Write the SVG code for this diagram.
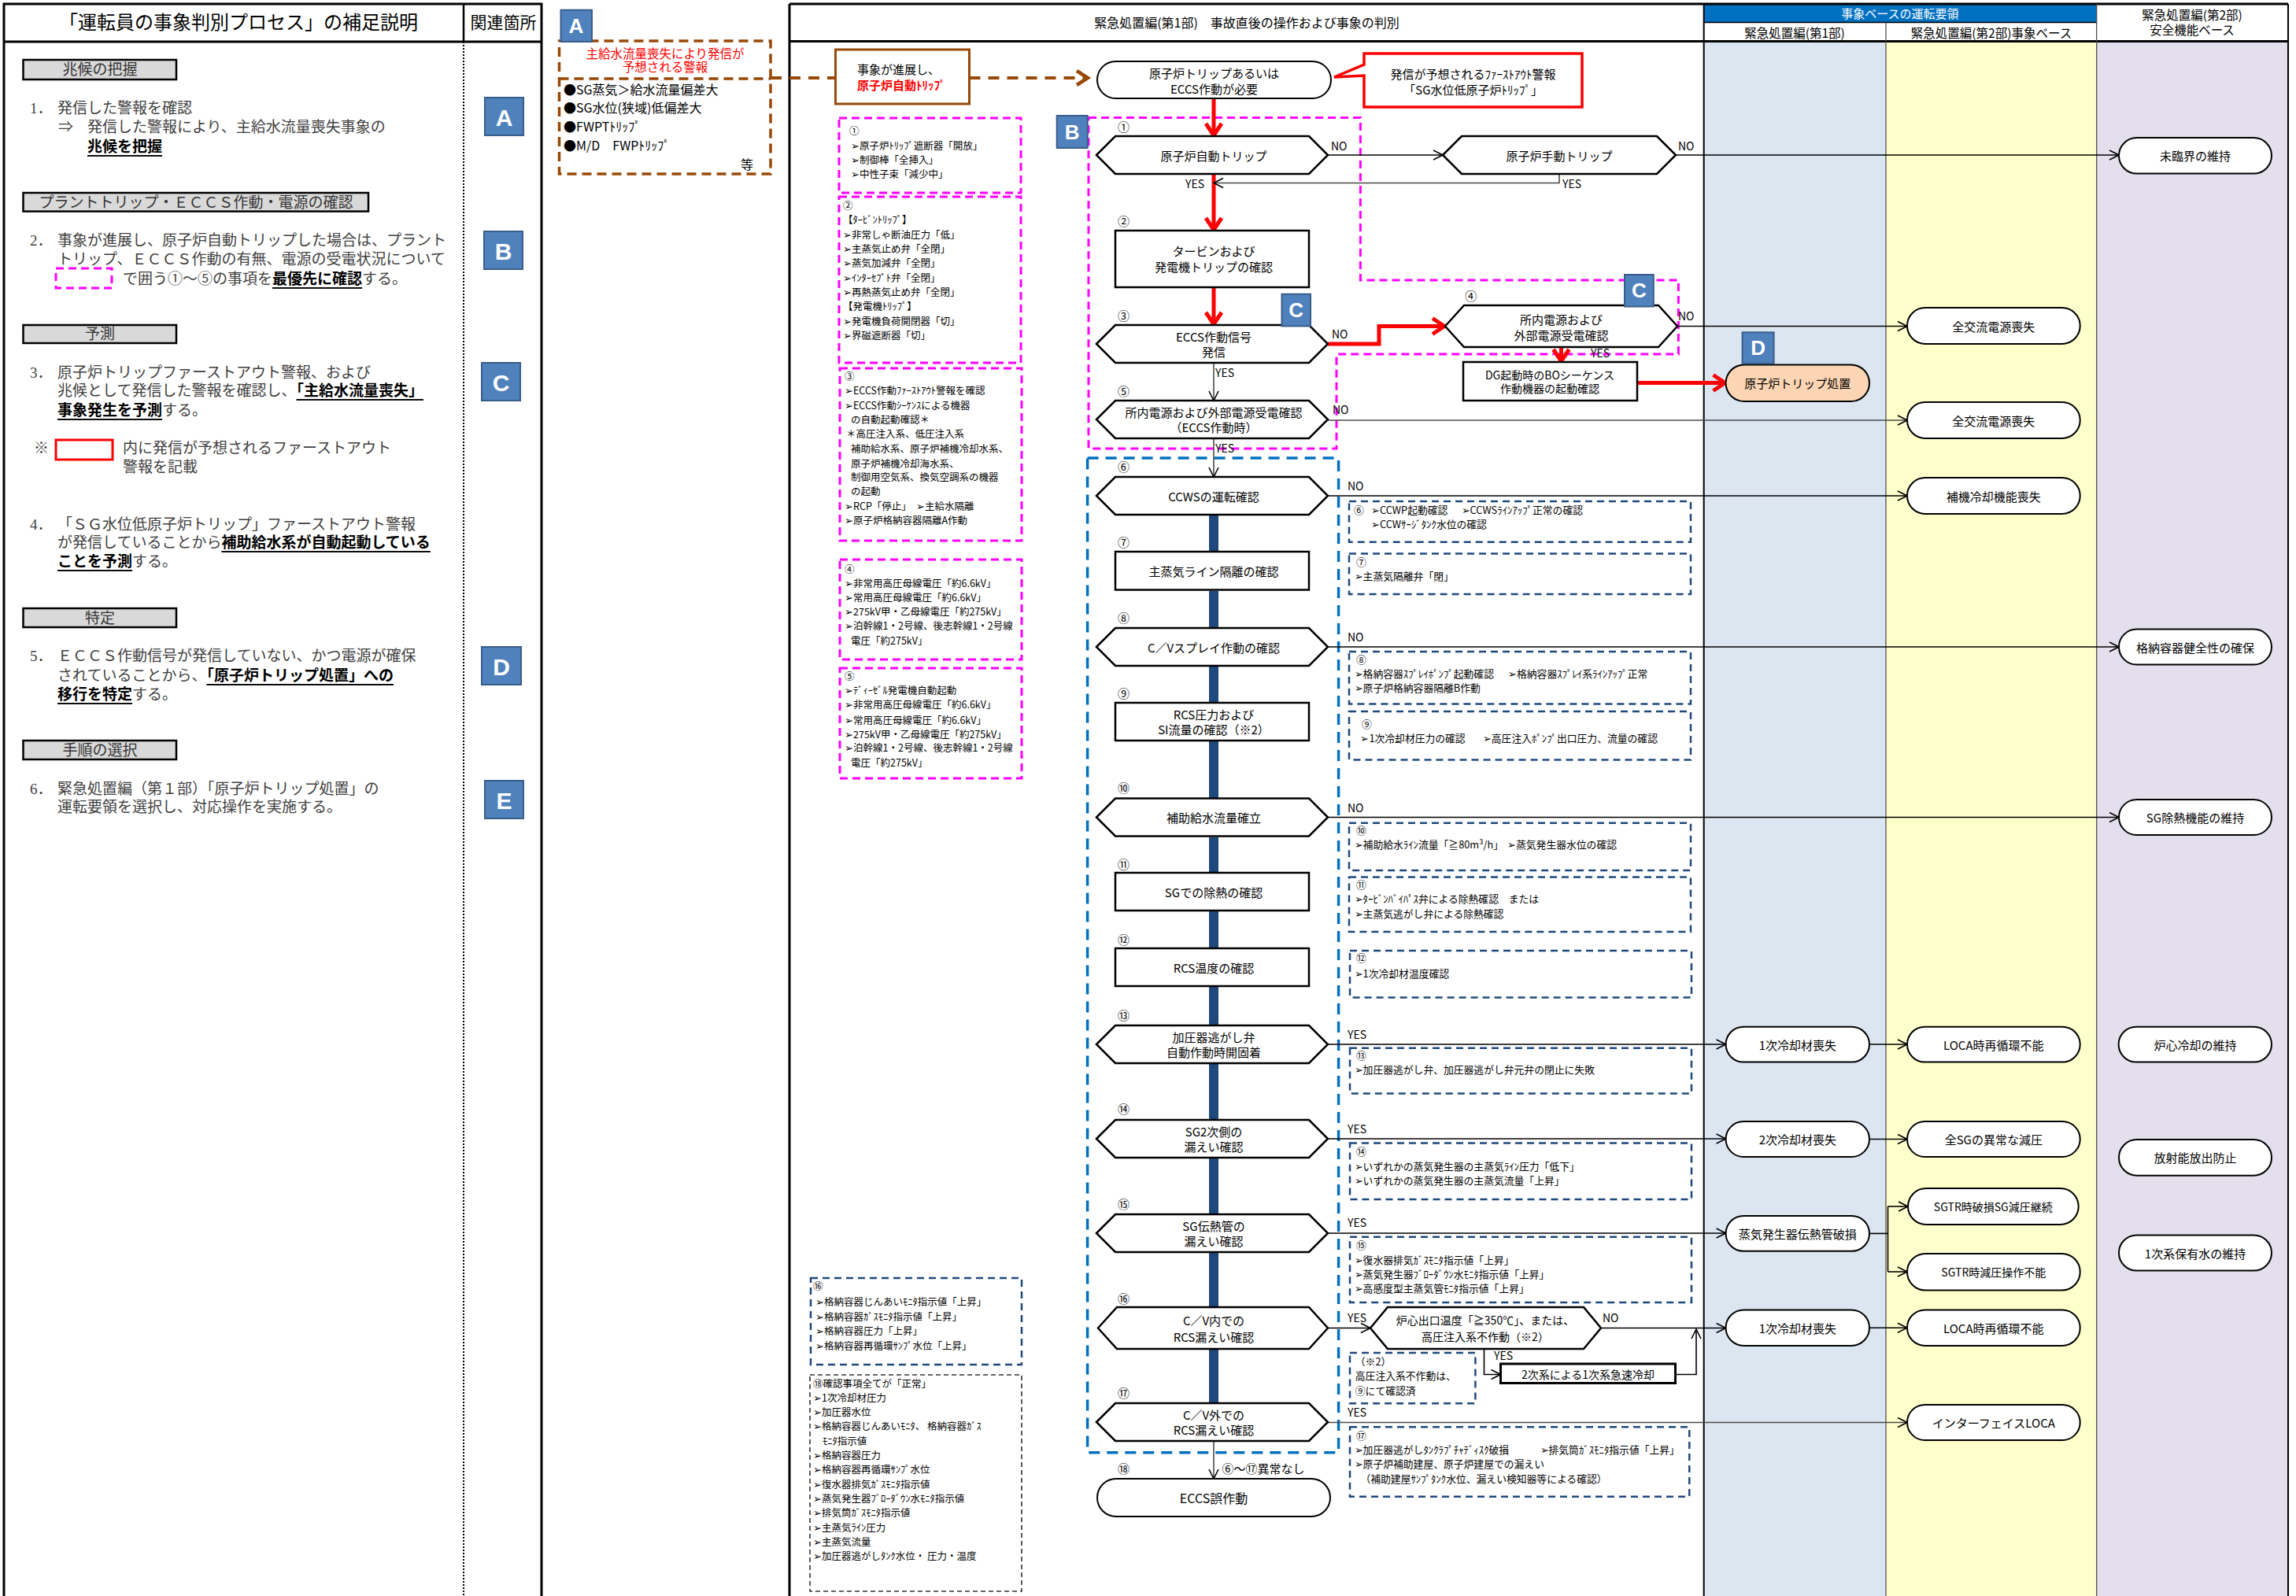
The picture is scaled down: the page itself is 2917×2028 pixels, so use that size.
<svg xmlns="http://www.w3.org/2000/svg" width="2917" height="2028" viewBox="0 0 2917 2028">
<style>
text{font-family:"Noto Sans CJK JP","Noto Sans",sans-serif;dominant-baseline:central;fill:#000}
.m{font-family:"Liberation Serif","Noto Sans CJK JP",serif;font-size:19px;fill:#404040}
.u{text-decoration:underline;font-weight:700;fill:#000}
.c{text-anchor:middle}
.gl{fill:#d9d9d9;stroke:#000;stroke-width:2.5}
.lb{fill:#4f81bd;stroke:#385d8a;stroke-width:2}
.lt{font-family:"Liberation Sans",Arial,sans-serif;font-weight:700;fill:#fff;text-anchor:middle}
.hx{fill:#fff;stroke:#000;stroke-width:2.5}
.tm{fill:#fff;stroke:#000;stroke-width:2}
.n{font-size:15px;text-anchor:middle}
.d{font-size:12.8px}
.p{font-size:12.5px}
.yn{font-size:14px}
.pk{fill:none;stroke:#f0f;stroke-width:3;stroke-dasharray:10 6}
.nv{fill:none;stroke:#1f497d;stroke-width:2.5;stroke-dasharray:9 6}
.br{fill:#1f497d}
.ln{fill:none;stroke:#000;stroke-width:1.6}
.gr{fill:none;stroke:#4a4a4a;stroke-width:1.6}
.rd{fill:none;stroke:#f00;stroke-width:5}
.fr{stroke:#000;stroke-width:3}
</style>
<defs>
<marker id="ah" markerUnits="userSpaceOnUse" markerWidth="16" markerHeight="16" viewBox="0 0 16 16" refX="15" refY="8" orient="auto"><path d="M3,2 L15,8 L3,14" fill="none" stroke="#000" stroke-width="1.6"/></marker>
<marker id="ahr" markerUnits="userSpaceOnUse" markerWidth="26" markerHeight="26" viewBox="0 0 26 26" refX="22" refY="13" orient="auto"><path d="M6,3 L21,13 L6,23" fill="none" stroke="#f00" stroke-width="5"/></marker>
<marker id="ahb" markerUnits="userSpaceOnUse" markerWidth="24" markerHeight="24" viewBox="0 0 24 24" refX="20" refY="12" orient="auto"><path d="M5,3 L19,12 L5,21" fill="none" stroke="#984807" stroke-width="4.5"/></marker>
</defs>

<rect width="2917" height="2028" fill="#fff"/>

<!-- left explanation panel -->
<g id="left-panel">
<rect x="5" y="5" width="683" height="2030" fill="#fff" class="fr"/>
<line x1="5" y1="53" x2="688" y2="53" class="fr"/>
<line x1="589" y1="5" x2="589" y2="53" stroke="#000" stroke-width="2.5"/>
<line x1="589" y1="53" x2="589" y2="2028" stroke="#000" stroke-width="2" stroke-dasharray="2 2"/>
<text x="303" y="29" class="c" style="font-family:'Liberation Serif','Noto Sans CJK JP',serif;font-size:24px">「運転員の事象判別プロセス」の補足説明</text>
<text x="639.5" y="29" class="c" style="font-family:'Liberation Serif','Noto Sans CJK JP',serif;font-size:21px">関連箇所</text>

<g id="sec-sign">
<rect x="29.5" y="76" width="194.5" height="25" class="gl"/>
<text x="127" y="88.5" class="m c" style="fill:#333">兆候の把握</text>
<text x="38" y="137.5" class="m">1．</text><text x="73" y="137.5" class="m">発信した警報を確認</text>
<text x="74" y="161" class="m">⇒</text><text x="111" y="161" class="m">発信した警報により、主給水流量喪失事象の</text>
<text x="111" y="186" class="m"><tspan class="u">兆候を把握</tspan></text>
</g>

<g id="sec-trip">
<rect x="29.5" y="245" width="438.5" height="23.6" class="gl"/>
<text x="249" y="257" class="m c" style="fill:#333">プラントトリップ・ＥＣＣＳ作動・電源の確認</text>
<text x="38" y="305" class="m">2．</text><text x="73" y="305" class="m">事象が進展し、原子炉自動トリップした場合は、プラント</text>
<text x="73" y="329" class="m">トリップ、ＥＣＣＳ作動の有無、電源の受電状況について</text>
<rect x="71" y="341" width="71" height="25" class="pk"/>
<text x="156" y="354" class="m">で囲う①～⑤の事項を<tspan class="u">最優先に確認</tspan>する。</text>
</g>

<g id="sec-predict">
<rect x="29.5" y="413" width="194.5" height="23" class="gl"/>
<text x="127" y="424.5" class="m c" style="fill:#333">予測</text>
<text x="38" y="473" class="m">3．</text><text x="73" y="473" class="m">原子炉トリップファーストアウト警報、および</text>
<text x="73" y="496" class="m">兆候として発信した警報を確認し、<tspan class="u">「主給水流量喪失」</tspan></text>
<text x="73" y="521" class="m"><tspan class="u">事象発生を予測</tspan>する。</text>
<text x="43" y="569" class="m">※</text>
<rect x="71" y="559" width="72" height="25" fill="none" stroke="#f00" stroke-width="3"/>
<text x="156" y="569" class="m">内に発信が予想されるファーストアウト</text>
<text x="156" y="593" class="m">警報を記載</text>
<text x="38" y="666" class="m">4．</text><text x="73" y="666" class="m">「ＳＧ水位低原子炉トリップ」ファーストアウト警報</text>
<text x="73" y="689" class="m">が発信していることから<tspan class="u">補助給水系が自動起動している</tspan></text>
<text x="73" y="713" class="m"><tspan class="u">ことを予測</tspan>する。</text>
</g>

<g id="sec-identify">
<rect x="29.5" y="773" width="194.5" height="24" class="gl"/>
<text x="127" y="785" class="m c" style="fill:#333">特定</text>
<text x="38" y="833" class="m">5．</text><text x="73" y="833" class="m">ＥＣＣＳ作動信号が発信していない、かつ電源が確保</text>
<text x="73" y="858" class="m">されていることから、<tspan class="u">「原子炉トリップ処置」への</tspan></text>
<text x="73" y="882" class="m"><tspan class="u">移行を特定</tspan>する。</text>
</g>

<g id="sec-select">
<rect x="29.5" y="941" width="194.5" height="24" class="gl"/>
<text x="127" y="953" class="m c" style="fill:#333">手順の選択</text>
<text x="38" y="1002" class="m">6．</text><text x="73" y="1002" class="m">緊急処置編（第１部）「原子炉トリップ処置」の</text>
<text x="73" y="1025" class="m">運転要領を選択し、対応操作を実施する。</text>
</g>

<g id="ref-A"><rect x="616" y="124" width="49" height="48" class="lb"/><text x="640.5" y="149" class="lt" style="font-size:30px">A</text></g>
<g id="ref-B"><rect x="615" y="294" width="49" height="48" class="lb"/><text x="639.5" y="319" class="lt" style="font-size:30px">B</text></g>
<g id="ref-C"><rect x="612" y="461" width="49" height="48" class="lb"/><text x="636.5" y="486" class="lt" style="font-size:30px">C</text></g>
<g id="ref-D"><rect x="612" y="822" width="50" height="48" class="lb"/><text x="637" y="847" class="lt" style="font-size:30px">D</text></g>
<g id="ref-E"><rect x="616" y="992" width="49" height="48" class="lb"/><text x="640.5" y="1017" class="lt" style="font-size:30px">E</text></g>
</g>

<!-- lane backgrounds and frame of the flow chart -->
<g id="lanes">
<rect x="2164.7" y="52.6" width="231.3" height="1976" fill="#dce6f1"/>
<rect x="2396" y="52.6" width="267.7" height="1976" fill="#ffffcc"/>
<rect x="2663.7" y="52.6" width="243.6" height="1976" fill="#e4dfec"/>
<rect x="2164.7" y="5" width="499" height="23.5" fill="#0070c0"/>
<text x="2414" y="16.5" class="c" style="font-size:15px;fill:#fff">事象ベースの運転要領</text>
<text x="2280" y="40.5" class="c" style="font-size:15.5px">緊急処置編(第1部)</text>
<text x="2530" y="40.5" class="c" style="font-size:15.5px">緊急処置編(第2部)事象ベース</text>
<text x="2785" y="18" class="c" style="font-size:15.5px">緊急処置編(第2部)</text>
<text x="2785" y="37" class="c" style="font-size:15.5px">安全機能ベース</text>
<text x="1584" y="28" class="c" style="font-size:16px">緊急処置編(第1部)　事故直後の操作および事象の判別</text>
<line x1="1003" y1="5" x2="2907" y2="5" class="fr"/>
<line x1="1003" y1="52.6" x2="2907" y2="52.6" class="fr"/>
<line x1="1003" y1="5" x2="1003" y2="2028" class="fr"/>
<line x1="2907" y1="5" x2="2907" y2="2028" stroke="#000" stroke-width="2"/>
<line x1="2164.7" y1="5" x2="2164.7" y2="2028" stroke="#000" stroke-width="2"/>
<line x1="2164.7" y1="28.5" x2="2663.7" y2="28.5" stroke="#000" stroke-width="1.5"/>
<line x1="2396" y1="28.5" x2="2396" y2="2028" stroke="#444" stroke-width="1.2"/>
<line x1="2663.7" y1="5" x2="2663.7" y2="2028" stroke="#444" stroke-width="1.2"/>
</g>

<!-- alarm list -->
<g id="alarm-box">
<rect x="710.5" y="52" width="268.5" height="169" fill="#fff" stroke="#984807" stroke-width="3.5" stroke-dasharray="12 7"/>
<line x1="710.5" y1="100" x2="979" y2="100" stroke="#984807" stroke-width="3.5" stroke-dasharray="12 7"/>
<text x="845" y="67" class="c" style="font-size:15.5px;fill:#f00">主給水流量喪失により発信が</text>
<text x="845" y="84" class="c" style="font-size:15.5px;fill:#f00">予想される警報</text>
<text x="716" y="113" style="font-size:16px">●SG蒸気＞給水流量偏差大</text>
<text x="716" y="136" style="font-size:16px">●SG水位(狭域)低偏差大</text>
<text x="716" y="160" style="font-size:16px">●FWPTﾄﾘｯﾌﾟ</text>
<text x="716" y="184" style="font-size:16px">●M/D　FWPﾄﾘｯﾌﾟ</text>
<text x="941" y="208" style="font-size:16px">等</text>
</g>
<g id="ref-A2"><rect x="712.5" y="12.7" width="39.5" height="40.3" class="lb"/><text x="732" y="33" class="lt" style="font-size:26px">A</text></g>

<g id="trip-note">
<rect x="1061.5" y="63" width="170" height="69" fill="#fff" stroke="#984807" stroke-width="3"/>
<text x="1089" y="87" style="font-size:15px">事象が進展し、</text>
<text x="1089" y="107.5" style="font-size:15px;fill:#f00;font-weight:700">原子炉自動ﾄﾘｯﾌﾟ</text>
</g>

<!-- check items ①～⑤ -->
<g id="chk-1">
<rect x="1066" y="150" width="231" height="95" class="pk"/>
<text x="1079" y="165" class="p">①</text>
<text x="1081" y="184" class="p">➢原子炉ﾄﾘｯﾌﾟ遮断器「開放」</text>
<text x="1081" y="202" class="p">➢制御棒「全挿入」</text>
<text x="1081" y="220" class="p">➢中性子束「減少中」</text>
</g>
<g id="chk-2">
<rect x="1066" y="250" width="231" height="211" class="pk"/>
<text x="1071" y="260" class="p">②</text>
<text x="1071" y="278" class="p">【ﾀｰﾋﾞﾝﾄﾘｯﾌﾟ】</text>
<text x="1071" y="297" class="p">➢非常しゃ断油圧力「低」</text>
<text x="1071" y="315" class="p">➢主蒸気止め弁「全閉」</text>
<text x="1071" y="333" class="p">➢蒸気加減弁「全閉」</text>
<text x="1071" y="352" class="p">➢ｲﾝﾀｰｾﾌﾟﾄ弁「全閉」</text>
<text x="1071" y="370" class="p">➢再熱蒸気止め弁「全閉」</text>
<text x="1071" y="388" class="p">【発電機ﾄﾘｯﾌﾟ】</text>
<text x="1071" y="407" class="p">➢発電機負荷開閉器「切」</text>
<text x="1071" y="425" class="p">➢界磁遮断器「切」</text>
</g>
<g id="chk-3">
<rect x="1067" y="468" width="231" height="219" class="pk"/>
<text x="1073" y="477" class="p">③</text>
<text x="1073" y="495.5" class="p">➢ECCS作動ﾌｧｰｽﾄｱｳﾄ警報を確認</text>
<text x="1073" y="514" class="p">➢ECCS作動ｼｰｹﾝｽによる機器</text>
<text x="1081" y="532" class="p">の自動起動確認＊</text>
<text x="1075" y="550.6" class="p">＊高圧注入系、低圧注入系</text>
<text x="1081" y="569.5" class="p">補助給水系、原子炉補機冷却水系、</text>
<text x="1081" y="588" class="p">原子炉補機冷却海水系、</text>
<text x="1081" y="605" class="p">制御用空気系、換気空調系の機器</text>
<text x="1081" y="623.6" class="p">の起動</text>
<text x="1073" y="642" class="p">➢RCP「停止」　➢主給水隔離</text>
<text x="1073" y="660" class="p">➢原子炉格納容器隔離A作動</text>
</g>
<g id="chk-4">
<rect x="1067" y="711" width="231" height="127" class="pk"/>
<text x="1073" y="722" class="p">④</text>
<text x="1073" y="740" class="p">➢非常用高圧母線電圧「約6.6kV」</text>
<text x="1073" y="758.6" class="p">➢常用高圧母線電圧「約6.6kV」</text>
<text x="1073" y="776" class="p">➢275kV甲・乙母線電圧「約275kV」</text>
<text x="1073" y="794" class="p">➢泊幹線1・2号線、後志幹線1・2号線</text>
<text x="1081" y="813" class="p">電圧「約275kV」</text>
</g>
<g id="chk-5">
<rect x="1067" y="849" width="231" height="140" class="pk"/>
<text x="1073" y="858" class="p">⑤</text>
<text x="1073" y="876.7" class="p">➢ﾃﾞｨｰｾﾞﾙ発電機自動起動</text>
<text x="1073" y="894.6" class="p">➢非常用高圧母線電圧「約6.6kV」</text>
<text x="1073" y="914" class="p">➢常用高圧母線電圧「約6.6kV」</text>
<text x="1073" y="932" class="p">➢275kV甲・乙母線電圧「約275kV」</text>
<text x="1073" y="949.7" class="p">➢泊幹線1・2号線、後志幹線1・2号線</text>
<text x="1081" y="968" class="p">電圧「約275kV」</text>
</g>
<g id="chk-16">
<rect x="1030" y="1624" width="268" height="110" class="nv"/>
<text x="1033" y="1633" class="p">⑯</text>
<text x="1036" y="1653" class="p">➢格納容器じんあいﾓﾆﾀ指示値「上昇」</text>
<text x="1036" y="1672" class="p">➢格納容器ｶﾞｽﾓﾆﾀ指示値「上昇」</text>
<text x="1036" y="1690" class="p">➢格納容器圧力「上昇」</text>
<text x="1036" y="1709" class="p">➢格納容器再循環ｻﾝﾌﾟ水位「上昇」</text>
</g>
<g id="chk-18">
<rect x="1029" y="1747" width="269" height="275" fill="none" stroke="#333" stroke-width="1.6" stroke-dasharray="6 4"/>
<text x="1033" y="1757" class="p">⑱確認事項全てが「正常」</text>
<text x="1033" y="1775.3" class="p">➢1次冷却材圧力</text>
<text x="1033" y="1793.6" class="p">➢加圧器水位</text>
<text x="1033" y="1811.9" class="p">➢格納容器じんあいﾓﾆﾀ、 格納容器ｶﾞｽ</text>
<text x="1045" y="1830.2" class="p">ﾓﾆﾀ指示値</text>
<text x="1033" y="1848.5" class="p">➢格納容器圧力</text>
<text x="1033" y="1866.8" class="p">➢格納容器再循環ｻﾝﾌﾟ水位</text>
<text x="1033" y="1885.1" class="p">➢復水器排気ｶﾞｽﾓﾆﾀ指示値</text>
<text x="1033" y="1903.4" class="p">➢蒸気発生器ﾌﾞﾛｰﾀﾞｳﾝ水ﾓﾆﾀ指示値</text>
<text x="1033" y="1921.7" class="p">➢排気筒ｶﾞｽﾓﾆﾀ指示値</text>
<text x="1033" y="1940" class="p">➢主蒸気ﾗｲﾝ圧力</text>
<text x="1033" y="1958.3" class="p">➢主蒸気流量</text>
<text x="1033" y="1976.6" class="p">➢加圧器逃がしﾀﾝｸ水位・ 圧力・温度</text>
</g>

<!-- grouping outlines -->
<g id="regions">
<path d="M1383,149.5 H1728.4 V356 H2132.4 V450 H1698 V570 H1383 Z" class="pk"/>
<rect x="1381.6" y="582" width="319" height="1263.7" fill="none" stroke="#0070c0" stroke-width="3.5" stroke-dasharray="14 9"/>
</g>

<!-- detail notes for ⑥～⑰ -->
<g id="notes">
<rect x="1714" y="637" width="434" height="51.7" class="nv"/>
<text x="1720" y="647" class="d">⑥</text><text x="1742" y="647" class="d">➢CCWP起動確認</text><text x="1856.6" y="647" class="d">➢CCWSﾗｲﾝｱｯﾌﾟ正常の確認</text>
<text x="1742" y="665" class="d">➢CCWｻｰｼﾞﾀﾝｸ水位の確認</text>
<rect x="1714" y="703.4" width="434" height="51.6" class="nv"/>
<text x="1723" y="713" class="d">⑦</text>
<text x="1720.6" y="731" class="d">➢主蒸気隔離弁「閉」</text>
<rect x="1714" y="828" width="434" height="66.4" class="nv"/>
<text x="1723" y="837.8" class="d">⑧</text>
<text x="1720.6" y="855.6" class="d">➢格納容器ｽﾌﾟﾚｲﾎﾟﾝﾌﾟ起動確認</text><text x="1916" y="855.6" class="d">➢格納容器ｽﾌﾟﾚｲ系ﾗｲﾝｱｯﾌﾟ正常</text>
<text x="1720.6" y="873.4" class="d">➢原子炉格納容器隔離B作動</text>
<rect x="1714" y="904" width="434" height="61.5" class="nv"/>
<text x="1730" y="919" class="d">⑨</text>
<text x="1728.4" y="937.8" class="d">➢1次冷却材圧力の確認</text><text x="1883.8" y="937.8" class="d">➢高圧注入ﾎﾟﾝﾌﾟ出口圧力、流量の確認</text>
<rect x="1714" y="1045.8" width="434" height="60.2" class="nv"/>
<text x="1723" y="1054.5" class="d">⑩</text>
<text x="1720.6" y="1072.3" class="d">➢補助給水ﾗｲﾝ流量「≧80m³/h」</text><text x="1915" y="1072.3" class="d">➢蒸気発生器水位の確認</text>
<rect x="1714" y="1114.6" width="434" height="69.4" class="nv"/>
<text x="1723" y="1123.7" class="d">⑪</text>
<text x="1720.6" y="1141.5" class="d">➢ﾀｰﾋﾞﾝﾊﾞｲﾊﾟｽ弁による除熱確認　または</text>
<text x="1720.6" y="1160" class="d">➢主蒸気逃がし弁による除熱確認</text>
<rect x="1715" y="1207.9" width="434" height="59.6" class="nv"/>
<text x="1723" y="1216.8" class="d">⑫</text>
<text x="1720.6" y="1236" class="d">➢1次冷却材温度確認</text>
<rect x="1715" y="1331.8" width="434" height="57.8" class="nv"/>
<text x="1723" y="1340.7" class="d">⑬</text>
<text x="1720.6" y="1358.6" class="d">➢加圧器逃がし弁、加圧器逃がし弁元弁の閉止に失敗</text>
<rect x="1715" y="1452.5" width="434" height="71.5" class="nv"/>
<text x="1723" y="1462" class="d">⑭</text>
<text x="1720.6" y="1481.8" class="d">➢いずれかの蒸気発生器の主蒸気ﾗｲﾝ圧力「低下」</text>
<text x="1720.6" y="1499" class="d">➢いずれかの蒸気発生器の主蒸気流量「上昇」</text>
<rect x="1715" y="1571.8" width="434" height="83.2" class="nv"/>
<text x="1723" y="1581" class="d">⑮</text>
<text x="1720.6" y="1600.7" class="d">➢復水器排気ｶﾞｽﾓﾆﾀ指示値「上昇」</text>
<text x="1720.6" y="1618.6" class="d">➢蒸気発生器ﾌﾞﾛｰﾀﾞｳﾝ水ﾓﾆﾀ指示値「上昇」</text>
<text x="1720.6" y="1636.4" class="d">➢高感度型主蒸気管ﾓﾆﾀ指示値「上昇」</text>
<rect x="1715" y="1719" width="159.4" height="64.3" class="nv"/>
<text x="1721.8" y="1729.3" class="d">（※2）</text>
<text x="1721.8" y="1747.7" class="d">高圧注入系不作動は、</text>
<text x="1721.8" y="1766.7" class="d">⑨にて確認済</text>
<rect x="1715" y="1813.3" width="431.3" height="88.4" class="nv"/>
<text x="1723" y="1823.3" class="d">⑰</text>
<text x="1720.6" y="1841.7" class="d">➢加圧器逃がしﾀﾝｸﾗﾌﾟﾁｬﾃﾞｨｽｸ破損</text><text x="1956.5" y="1841.7" class="d">➢排気筒ｶﾞｽﾓﾆﾀ指示値「上昇」</text>
<text x="1720.6" y="1859.3" class="d">➢原子炉補助建屋、原子炉建屋での漏えい</text>
<text x="1728.4" y="1878.3" class="d">（補助建屋ｻﾝﾌﾟﾀﾝｸ水位、漏えい検知器等による確認）</text>
</g>

<!-- connectors -->
<g id="connectors">
<line x1="979" y1="99" x2="1061.5" y2="99" stroke="#984807" stroke-width="4" stroke-dasharray="14 10"/>
<line x1="1231.5" y1="99" x2="1383" y2="99" stroke="#984807" stroke-width="4" stroke-dasharray="14 10" marker-end="url(#ahb)"/>
<line x1="1542" y1="125" x2="1542" y2="173" class="rd" marker-end="url(#ahr)"/>
<line x1="1542" y1="221" x2="1542" y2="293" class="rd" marker-end="url(#ahr)"/>
<line x1="1542" y1="365" x2="1542" y2="413" class="rd" marker-end="url(#ahr)"/>
<polyline points="1687,437 1752,437 1752,414.5 1836,414.5" class="rd" marker-end="url(#ahr)"/>
<line x1="1983.5" y1="441" x2="1983.5" y2="460" class="rd" marker-end="url(#ahr)"/>
<line x1="2080" y1="486.5" x2="2192.6" y2="486.5" class="rd" marker-end="url(#ahr)"/>
<line x1="1687" y1="197" x2="1833" y2="197" class="ln" marker-end="url(#ah)"/>
<line x1="2129" y1="197" x2="2692" y2="197" class="ln" marker-end="url(#ah)"/>
<polyline points="1981,221 1981,232.5 1542,232.5" class="gr" marker-end="url(#ah)"/>
<line x1="1542" y1="461" x2="1542" y2="509" class="gr" marker-end="url(#ah)"/>
<line x1="2131" y1="414.5" x2="2423" y2="414.5" class="ln" marker-end="url(#ah)"/>
<line x1="1687" y1="534" x2="2423" y2="534" class="gr" marker-end="url(#ah)"/>
<line x1="1542" y1="557" x2="1542" y2="606" class="gr" marker-end="url(#ah)"/>
<line x1="1687" y1="630" x2="2423" y2="630" class="ln" marker-end="url(#ah)"/>
<line x1="1687" y1="822" x2="2692" y2="822" class="ln" marker-end="url(#ah)"/>
<line x1="1687" y1="1038.5" x2="2692" y2="1038.5" class="ln" marker-end="url(#ah)"/>
<line x1="1687" y1="1327" x2="2192.6" y2="1327" class="ln" marker-end="url(#ah)"/>
<line x1="1687" y1="1447" x2="2192.6" y2="1447" class="ln" marker-end="url(#ah)"/>
<line x1="1687" y1="1567" x2="2192.6" y2="1567" class="ln" marker-end="url(#ah)"/>
<line x1="1687" y1="1687.5" x2="1741" y2="1687.5" class="ln" marker-end="url(#ah)"/>
<line x1="2034" y1="1687.5" x2="2192.6" y2="1687.5" class="ln" marker-end="url(#ah)"/>
<polyline points="1885.5,1714 1885.5,1746.5 1906.5,1746.5" class="ln" marker-end="url(#ah)"/>
<polyline points="2128.5,1746.5 2155,1746.5 2155,1689" class="ln" marker-end="url(#ah)"/>
<line x1="1687" y1="1807.5" x2="2423" y2="1807.5" class="gr" marker-end="url(#ah)"/>
<line x1="1542" y1="1831" x2="1542" y2="1879" class="gr" marker-end="url(#ah)"/>
<line x1="2375" y1="1327" x2="2423" y2="1327" class="ln" marker-end="url(#ah)"/>
<line x1="2375" y1="1447.5" x2="2423" y2="1447.5" class="ln" marker-end="url(#ah)"/>
<polyline points="2375,1567.4 2398.5,1567.4" class="ln"/>
<line x1="2398.5" y1="1533" x2="2398.5" y2="1616" class="ln"/>
<line x1="2398.5" y1="1533" x2="2424" y2="1533" class="ln" marker-end="url(#ah)"/>
<line x1="2398.5" y1="1616" x2="2423" y2="1616" class="ln" marker-end="url(#ah)"/>
<line x1="2375" y1="1687.2" x2="2423" y2="1687.2" class="ln" marker-end="url(#ah)"/>
<rect x="1536" y="655" width="12" height="46" class="br"/>
<rect x="1536" y="751" width="12" height="47" class="br"/>
<rect x="1536" y="847" width="12" height="46" class="br"/>
<rect x="1536" y="942" width="12" height="72.5" class="br"/>
<rect x="1536" y="1064" width="12" height="45" class="br"/>
<rect x="1536" y="1158" width="12" height="47" class="br"/>
<rect x="1536" y="1254" width="12" height="49" class="br"/>
<rect x="1536" y="1352" width="12" height="71" class="br"/>
<rect x="1536" y="1472" width="12" height="71" class="br"/>
<rect x="1536" y="1592" width="12" height="69" class="br"/>
<rect x="1536" y="1715" width="12" height="68" class="br"/>
<g class="yn">
<text x="1691" y="185" class="yn">NO</text>
<text x="2132" y="185" class="yn">NO</text>
<text x="1506" y="232.5" class="yn">YES</text>
<text x="1985" y="232.5" class="yn">YES</text>
<text x="1692" y="424" class="yn">NO</text>
<text x="2132" y="400.5" class="yn">NO</text>
<text x="2021" y="448" class="yn">YES</text>
<text x="1544" y="472.5" class="yn">YES</text>
<text x="1693" y="520" class="yn">NO</text>
<text x="1544" y="569.4" class="yn">YES</text>
<text x="1712" y="616.8" class="yn">NO</text>
<text x="1712" y="808.5" class="yn">NO</text>
<text x="1712" y="1025.6" class="yn">NO</text>
<text x="1712" y="1314" class="yn">YES</text>
<text x="1712" y="1433.6" class="yn">YES</text>
<text x="1712" y="1553" class="yn">YES</text>
<text x="1712" y="1674" class="yn">YES</text>
<text x="2036" y="1674" class="yn">NO</text>
<text x="1898" y="1721.7" class="yn">YES</text>
<text x="1712" y="1794" class="yn">YES</text>
</g>
<text x="1552.5" y="1865" style="font-size:15px">⑥～⑰異常なし</text>
</g>

<!-- step numbers -->
<g id="step-numbers" style="font-size:15px">
<text x="1427.6" y="160" class="c">①</text>
<text x="1427.6" y="280.7" class="c">②</text>
<text x="1427.6" y="400" class="c">③</text>
<text x="1868.8" y="375.6" class="c">④</text>
<text x="1427.6" y="496" class="c">⑤</text>
<text x="1427.6" y="592" class="c">⑥</text>
<text x="1427.6" y="688.7" class="c">⑦</text>
<text x="1427.6" y="784.4" class="c">⑧</text>
<text x="1427.6" y="880.5" class="c">⑨</text>
<text x="1427.6" y="1000" class="c">⑩</text>
<text x="1427.6" y="1097" class="c">⑪</text>
<text x="1427.6" y="1193.6" class="c">⑫</text>
<text x="1427.6" y="1289" class="c">⑬</text>
<text x="1427.6" y="1408.6" class="c">⑭</text>
<text x="1427.6" y="1529" class="c">⑮</text>
<text x="1427.6" y="1649" class="c">⑯</text>
<text x="1427.6" y="1769.3" class="c">⑰</text>
<text x="1427.6" y="1865" class="c">⑱</text>
</g>

<!-- flow nodes -->
<g id="start">
<rect x="1394" y="78" width="297" height="47" rx="23.5" class="tm"/>
<text x="1542.5" y="92" class="n">原子炉トリップあるいは</text>
<text x="1542.5" y="112" class="n">ECCS作動が必要</text>
</g>
<g id="callout">
<path d="M1733,68 H2010 V136 H1733 V96 L1695,98 L1733,82 Z" fill="#fff" stroke="#f00" stroke-width="3.5"/>
<text x="1871.6" y="93" class="n">発信が予想されるﾌｧｰｽﾄｱｳﾄ警報</text>
<text x="1871.6" y="113.5" class="n">「SG水位低原子炉ﾄﾘｯﾌﾟ」</text>
</g>
<g id="ref-B2"><rect x="1342.7" y="147" width="39" height="41" class="lb"/><text x="1362.2" y="168" class="lt" style="font-size:26px">B</text></g>
<g id="step-1">
<polygon points="1393,197 1417,173 1663,173 1687,197 1663,221 1417,221" class="hx"/>
<text x="1542" y="197" class="n">原子炉自動トリップ</text>
</g>
<g id="step-1b">
<polygon points="1833,197 1857,173 2105,173 2129,197 2105,221 1857,221" class="hx"/>
<text x="1981" y="197" class="n">原子炉手動トリップ</text>
</g>
<g id="step-2">
<rect x="1417" y="293" width="246" height="72" class="hx"/>
<text x="1542" y="318" class="n">タービンおよび</text>
<text x="1542" y="338" class="n">発電機トリップの確認</text>
</g>
<g id="step-3">
<polygon points="1393,437 1417,413 1663,413 1687,437 1663,461 1417,461" class="hx"/>
<text x="1542" y="427" class="n">ECCS作動信号</text>
<text x="1542" y="446" class="n">発信</text>
</g>
<g id="ref-C2"><rect x="1628.5" y="373.7" width="36.5" height="40.7" class="lb"/><text x="1646.7" y="394" class="lt" style="font-size:26px">C</text></g>
<g id="step-4">
<polygon points="1836,414.5 1860,388 2107,388 2131,414.5 2107,441 1860,441" class="hx"/>
<text x="1983.5" y="405" class="n">所内電源および</text>
<text x="1983.5" y="425" class="n">外部電源受電確認</text>
</g>
<g id="ref-C3"><rect x="2064" y="349" width="36.8" height="40.5" class="lb"/><text x="2082.4" y="369" class="lt" style="font-size:26px">C</text></g>
<g id="dg-check">
<rect x="1859" y="460" width="221" height="49" class="hx"/>
<text x="1969" y="476" class="n" style="font-size:14px">DG起動時のBOシーケンス</text>
<text x="1969" y="493" class="n" style="font-size:14px">作動機器の起動確認</text>
</g>
<g id="step-5">
<polygon points="1393,533 1417,509 1663,509 1687,533 1663,557 1417,557" class="hx"/>
<text x="1542" y="523" class="n">所内電源および外部電源受電確認</text>
<text x="1542" y="542" class="n">（ECCS作動時）</text>
</g>
<g id="step-6">
<polygon points="1393,630 1417,606 1663,606 1687,630 1663,654 1417,654" class="hx"/>
<text x="1542" y="630" class="n">CCWSの運転確認</text>
</g>
<g id="step-7">
<rect x="1417" y="701" width="246" height="48.5" class="hx"/>
<text x="1542" y="725" class="n">主蒸気ライン隔離の確認</text>
</g>
<g id="step-8">
<polygon points="1393,822 1417,798 1663,798 1687,822 1663,846 1417,846" class="hx"/>
<text x="1542" y="822" class="n">C／Vスプレイ作動の確認</text>
</g>
<g id="step-9">
<rect x="1417" y="893" width="246" height="48" class="hx"/>
<text x="1542" y="907" class="n">RCS圧力および</text>
<text x="1542" y="926" class="n">SI流量の確認（※2）</text>
</g>
<g id="step-10">
<polygon points="1393,1038.5 1417,1014.5 1663,1014.5 1687,1038.5 1663,1062.5 1417,1062.5" class="hx"/>
<text x="1542" y="1038.5" class="n">補助給水流量確立</text>
</g>
<g id="step-11">
<rect x="1417" y="1109" width="246" height="48" class="hx"/>
<text x="1542" y="1133" class="n">SGでの除熱の確認</text>
</g>
<g id="step-12">
<rect x="1417" y="1205" width="246" height="48" class="hx"/>
<text x="1542" y="1229" class="n">RCS温度の確認</text>
</g>
<g id="step-13">
<polygon points="1393,1327 1417,1303 1663,1303 1687,1327 1663,1351 1417,1351" class="hx"/>
<text x="1542" y="1317" class="n">加圧器逃がし弁</text>
<text x="1542" y="1336" class="n">自動作動時開固着</text>
</g>
<g id="step-14">
<polygon points="1393,1447 1417,1423 1663,1423 1687,1447 1663,1471 1417,1471" class="hx"/>
<text x="1542" y="1437" class="n">SG2次側の</text>
<text x="1542" y="1456" class="n">漏えい確認</text>
</g>
<g id="step-15">
<polygon points="1393,1567 1417,1543 1663,1543 1687,1567 1663,1591 1417,1591" class="hx"/>
<text x="1542" y="1557" class="n">SG伝熱管の</text>
<text x="1542" y="1576" class="n">漏えい確認</text>
</g>
<g id="step-16">
<polygon points="1395,1687.5 1419,1661 1663,1661 1687,1687.5 1663,1714 1419,1714" class="hx"/>
<text x="1542" y="1677" class="n">C／V内での</text>
<text x="1542" y="1698" class="n">RCS漏えい確認</text>
</g>
<g id="step-16b">
<polygon points="1741,1687.5 1763,1661 2012,1661 2034,1687.5 2012,1714 1763,1714" class="hx"/>
<text x="1887" y="1677" class="n" style="font-size:14px">炉心出口温度「≧350℃」、または、</text>
<text x="1887" y="1698" class="n" style="font-size:14px">高圧注入系不作動（※2）</text>
</g>
<g id="rapid-cool">
<rect x="1906.5" y="1733" width="222" height="24.5" fill="#fff" stroke="#000" stroke-width="3"/>
<text x="2017.5" y="1745.5" class="n" style="font-size:14px">2次系による1次系急速冷却</text>
</g>
<g id="step-17">
<polygon points="1393,1807 1417,1783 1663,1783 1687,1807 1663,1831 1417,1831" class="hx"/>
<text x="1542" y="1797" class="n">C／V外での</text>
<text x="1542" y="1816" class="n">RCS漏えい確認</text>
</g>
<g id="step-18">
<rect x="1394" y="1879" width="296" height="48" rx="24" class="tm"/>
<text x="1542" y="1903" class="n" style="font-size:16px">ECCS誤作動</text>
</g>

<!-- procedure outcomes -->
<g id="out-subcrit"><rect x="2692" y="175" width="194" height="45.6" rx="22.8" class="tm"/><text x="2789" y="197.8" class="n">未臨界の維持</text></g>
<g id="out-sbo1"><rect x="2423" y="391" width="219.7" height="46" rx="23" class="tm"/><text x="2532.8" y="414" class="n">全交流電源喪失</text></g>
<g id="out-trip"><rect x="2192.6" y="463.4" width="182.4" height="46.6" rx="23.3" fill="#fcd5b4" stroke="#000" stroke-width="2"/><text x="2283.8" y="486.7" class="n">原子炉トリップ処置</text></g>
<g id="ref-D2"><rect x="2213.6" y="422.3" width="40" height="39.5" class="lb"/><text x="2233.6" y="442" class="lt" style="font-size:26px">D</text></g>
<g id="out-sbo2"><rect x="2423" y="511" width="219.7" height="46" rx="23" class="tm"/><text x="2532.8" y="534" class="n">全交流電源喪失</text></g>
<g id="out-ccw"><rect x="2423" y="607" width="219.7" height="46" rx="23" class="tm"/><text x="2532.8" y="630" class="n">補機冷却機能喪失</text></g>
<g id="out-cv"><rect x="2692" y="799.5" width="194" height="45" rx="22.5" class="tm"/><text x="2789" y="822" class="n">格納容器健全性の確保</text></g>
<g id="out-sgheat"><rect x="2692" y="1016" width="194" height="45" rx="22.5" class="tm"/><text x="2789" y="1038.5" class="n">SG除熱機能の維持</text></g>
<g id="out-loca1"><rect x="2192.6" y="1304.7" width="182.4" height="44.8" rx="22.4" class="tm"/><text x="2283.8" y="1327" class="n">1次冷却材喪失</text></g>
<g id="out-recirc1"><rect x="2423" y="1304.7" width="219.7" height="44.8" rx="22.4" class="tm"/><text x="2532.8" y="1327" class="n">LOCA時再循環不能</text></g>
<g id="out-corecool"><rect x="2691.6" y="1304.7" width="194.4" height="44.8" rx="22.4" class="tm"/><text x="2789" y="1327" class="n">炉心冷却の維持</text></g>
<g id="out-secloss"><rect x="2192.6" y="1425" width="182.4" height="45" rx="22.5" class="tm"/><text x="2283.8" y="1447.5" class="n">2次冷却材喪失</text></g>
<g id="out-allsg"><rect x="2423" y="1425" width="219.7" height="45" rx="22.5" class="tm"/><text x="2532.8" y="1447.5" class="n">全SGの異常な減圧</text></g>
<g id="out-release"><rect x="2692" y="1448" width="194" height="45.7" rx="22.8" class="tm"/><text x="2789" y="1470.8" class="n">放射能放出防止</text></g>
<g id="out-sgtr1"><rect x="2424" y="1510" width="216.7" height="46" rx="23" class="tm"/><text x="2532.3" y="1533" class="n" style="font-size:14px">SGTR時破損SG減圧継続</text></g>
<g id="out-sgtr"><rect x="2192.6" y="1545" width="182.4" height="44.8" rx="22.4" class="tm"/><text x="2283.8" y="1567.4" class="n">蒸気発生器伝熱管破損</text></g>
<g id="out-sgtr2"><rect x="2423" y="1593" width="219.7" height="46.5" rx="23.2" class="tm"/><text x="2532.8" y="1616.2" class="n" style="font-size:14px">SGTR時減圧操作不能</text></g>
<g id="out-inventory"><rect x="2692" y="1569.4" width="194" height="45.2" rx="22.6" class="tm"/><text x="2789" y="1592" class="n">1次系保有水の維持</text></g>
<g id="out-loca2"><rect x="2192.6" y="1664.4" width="182.4" height="45.6" rx="22.8" class="tm"/><text x="2283.8" y="1687.2" class="n">1次冷却材喪失</text></g>
<g id="out-recirc2"><rect x="2423" y="1664.4" width="219.7" height="45.6" rx="22.8" class="tm"/><text x="2532.8" y="1687.2" class="n">LOCA時再循環不能</text></g>
<g id="out-isloca"><rect x="2423" y="1785" width="219.7" height="45" rx="22.5" class="tm"/><text x="2532.8" y="1807.5" class="n">インターフェイスLOCA</text></g>
</svg>
